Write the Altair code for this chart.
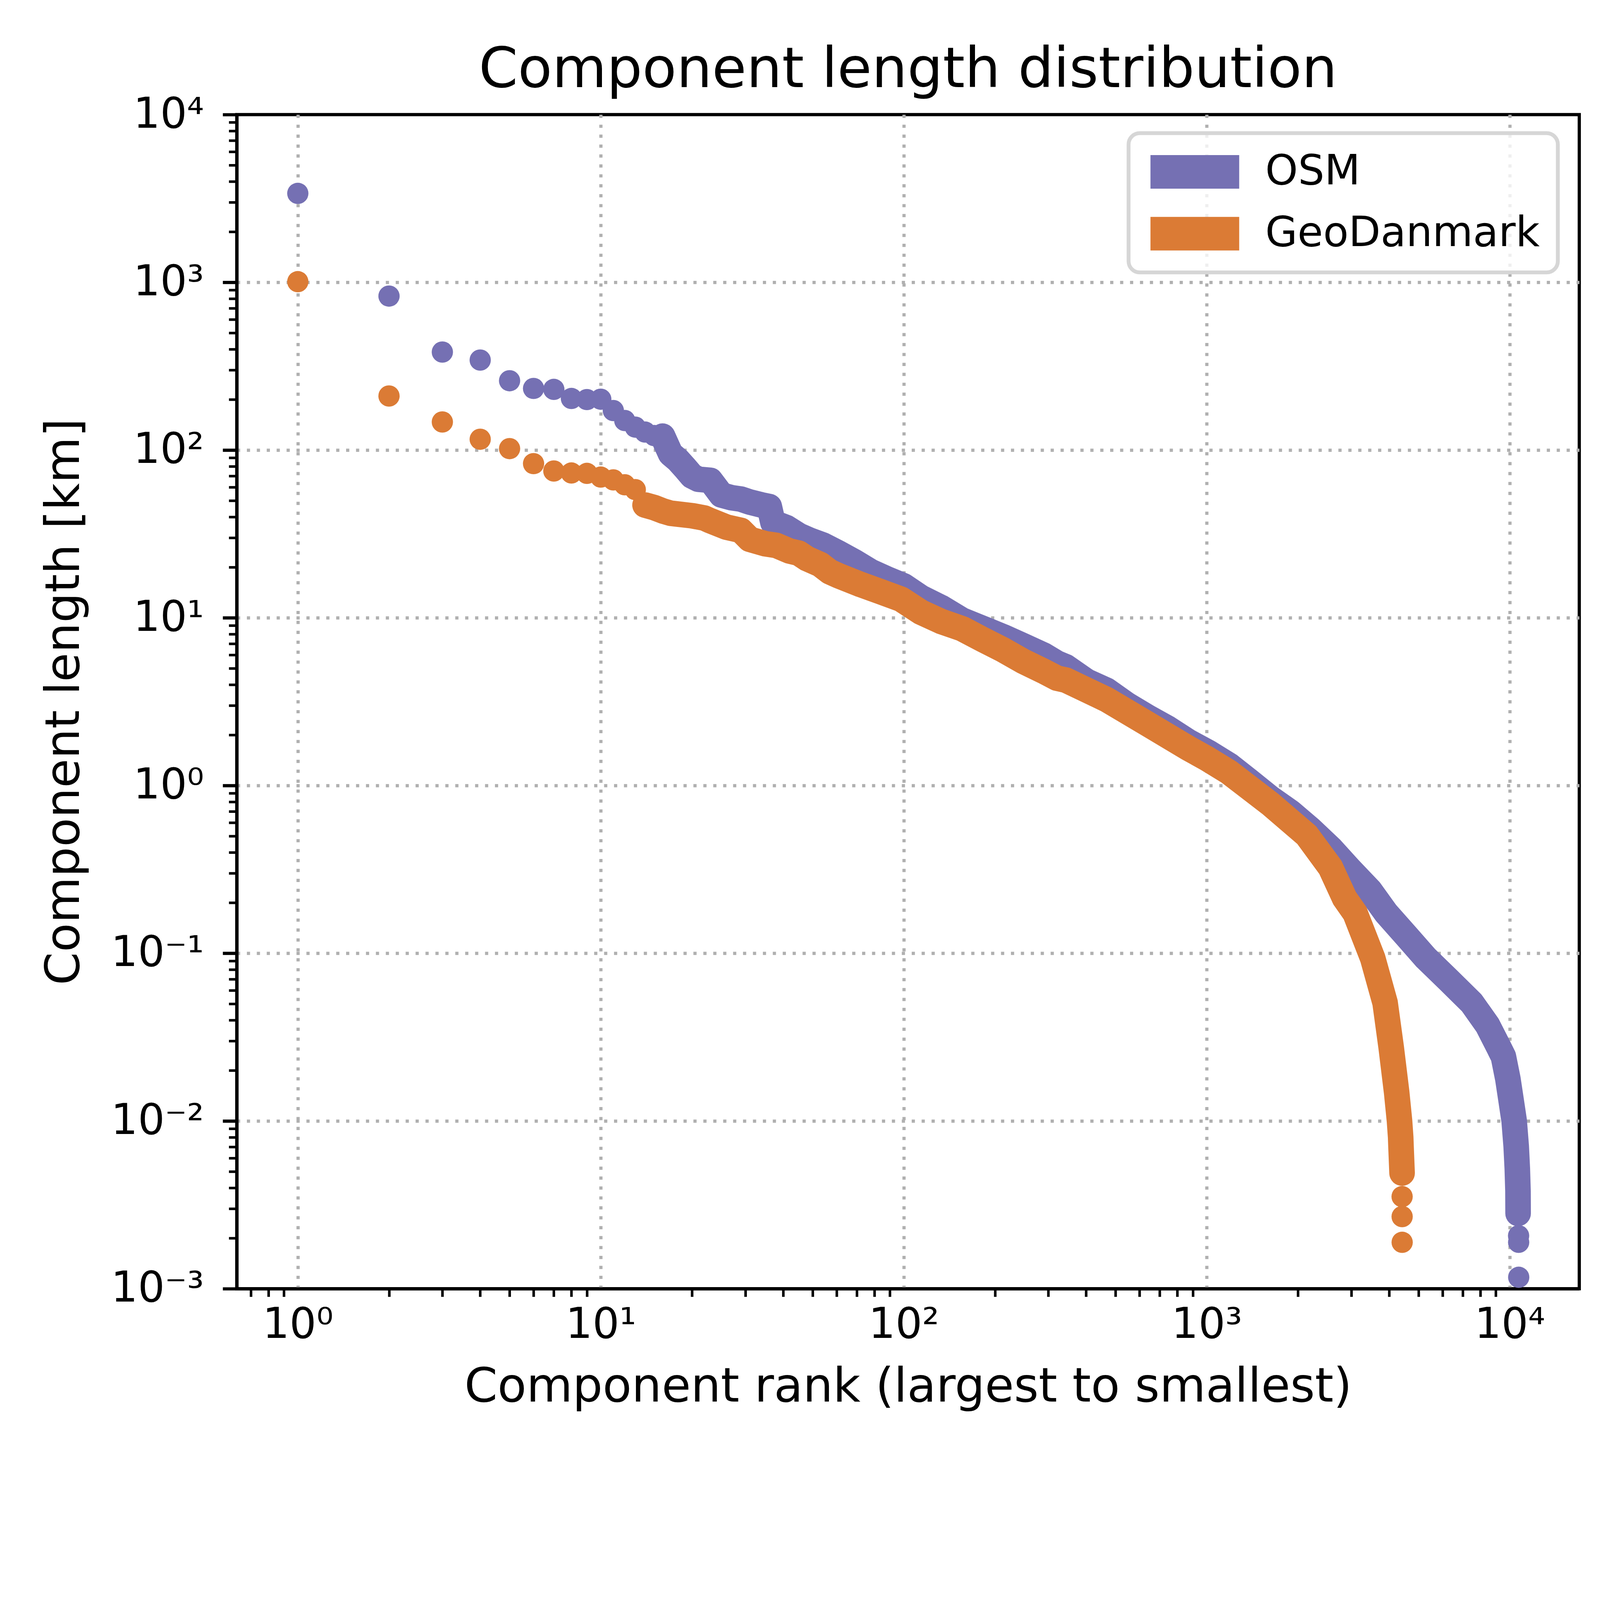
import altair as alt
import pandas as pd

# ---- data ----
osm_rank = [1, 2, 3, 4, 5, 6, 7, 8, 9, 10, 11, 12, 13, 14, 15, 16, 17, 18, 19, 20, 21,
            23, 25, 27, 29, 31, 34, 36, 37, 41, 45, 49, 54, 61, 69, 78, 89, 100,
            114, 133, 156, 182, 212, 248, 289, 321, 343, 401, 468, 546, 638, 745, 869,
            1016, 1186, 1384, 1617, 1888, 2204, 2574, 2953, 3460, 3917, 4560, 5292,
            6310, 7493, 8451, 9213, 9534, 9864, 10120, 10347, 10507, 10596, 10651,
            10660, 10700, 10705, 10710]
osm_length = [3390, 828, 384, 344, 259, 233, 230, 203, 200, 201, 172, 150, 137, 128, 122,
              121, 95, 87, 78, 70, 67, 66, 54, 52, 51, 49, 47, 46, 37, 34.5, 31, 29,
              27.2, 24.3, 21.5, 18.8, 16.9, 15.5,
              13.2, 11.5, 9.67, 8.65, 7.73, 6.81, 6.0, 5.36, 5.1, 4.19, 3.69, 3.03, 2.56,
              2.19, 1.83, 1.57, 1.32, 1.06, 0.845, 0.694, 0.547, 0.419, 0.319, 0.236,
              0.173, 0.127, 0.0935, 0.0687, 0.0506, 0.0372, 0.0274, 0.0242, 0.0178,
              0.0131, 0.01, 0.00707, 0.0052, 0.00383, 0.00281, 0.00207, 0.00189, 0.00117]

gd_rank = [1, 2, 3, 4, 5, 6, 7, 8, 9, 10, 11, 12, 13, 14, 15, 16, 17, 18, 20, 22, 23, 26,
           29, 31, 35, 38, 42, 45, 48, 53, 57, 61, 72, 84, 98, 114, 133, 156, 182, 212,
           248, 289, 321, 343, 468, 638, 869, 1000, 1186, 1617, 2138, 2560, 2851, 3090,
           3530, 3880, 4064, 4236, 4329, 4367, 4378, 4414, 4415, 4416, 4417]
gd_length = [1009, 210, 147, 116, 102, 83, 75, 73, 72.6, 69, 66.4, 62.1, 58.1, 47, 45.4,
             43.4, 42, 41.5, 40.6, 39.3, 37.9, 34.7, 33.2, 29.4, 27.6, 27, 25, 24.3, 22.5,
             20.8, 18.8, 17.8, 15.8, 14.3, 12.9, 10.8, 9.5, 8.6, 7.43, 6.46, 5.5, 4.81,
             4.36, 4.25, 3.25, 2.33, 1.67, 1.45, 1.20, 0.78, 0.506, 0.325, 0.213, 0.173,
             0.0935, 0.0506, 0.0274, 0.0148, 0.01, 0.008, 0.00707, 0.00489, 0.00354,
             0.00269, 0.00189]

series_names = ["OSM", "GeoDanmark"]
series_colors = ["#7570b3", "#db7b35"]

x_major_ticks = [1, 10, 100, 1000, 10000]
x_major_labels = ["10⁰", "10¹", "10²", "10³", "10⁴"]
x_minor_ticks = [0.7, 0.8, 0.9] + [m * 10 ** k for k in range(0, 4) for m in range(2, 10)]

y_major_ticks = [0.001, 0.01, 0.1, 1, 10, 100, 1000, 10000]
y_major_labels = ["10⁻³", "10⁻²", "10⁻¹", "10⁰", "10¹", "10²", "10³", "10⁴"]
y_minor_ticks = [round(m * 10.0 ** k, 6) for k in range(-3, 4) for m in range(2, 10)]

FONT = "DejaVu Sans"
MAJOR = "abs(log(datum.value) / LN10 - round(log(datum.value) / LN10)) < 0.000001"
INNER = "datum.value > 0.0011 && datum.value < 9000"

# which points merge into a continuous band (rank from, length above)
BAND = {"OSM": (16, 0.0027), "GeoDanmark": (14, 0.0045)}


def label_expr(vals, labs):
    return " : ".join(f"datum.value == {v} ? '{l}'" for v, l in zip(vals, labs)) + " : ''"


def band_test(name):
    r, l = BAND[name]
    return f"(datum.series == '{name}' && datum.rank >= {r} && datum.length > {l})"


df = pd.DataFrame({
    "rank": osm_rank + gd_rank,
    "length": osm_length + gd_length,
    "series": [series_names[0]] * len(osm_rank) + [series_names[1]] * len(gd_rank),
})

W, H = 4194, 3668

x_scale = alt.Scale(type="log", domain=[0.629, 16970], nice=False)
y_scale = alt.Scale(type="log", domain=[0.001, 10000], nice=False)
c_scale = alt.Scale(domain=series_names, range=series_colors)

x_axis = alt.Axis(
    values=sorted(x_major_ticks + x_minor_ticks),
    labelExpr=label_expr(x_major_ticks, x_major_labels),
    title="Component rank (largest to smallest)",
    grid=True, gridColor="#b0b0b0", gridWidth=10, gridDash=[10, 21],
    gridOpacity={"condition": {"test": MAJOR, "value": 1}, "value": 0},
    domain=True, domainColor="black", domainWidth=10,
    ticks=True, tickColor="black", tickSize=25, tickWidth=8,
    tickOpacity={"condition": {"test": MAJOR, "value": 0}, "value": 1},
    labelFont=FONT, labelFontSize=132, labelColor="black", labelPadding=24,
    labelFlush=False, labelOverlap=False, labelAlign="center", labelBaseline="top",
    labelLimit=1000,
    titleFont=FONT, titleFontSize=148, titleFontWeight="normal", titleColor="black",
    titleX=W / 2, titleY=352, titleBaseline="alphabetic", titleAlign="center",
)

y_axis = alt.Axis(
    values=sorted(y_major_ticks + y_minor_ticks),
    labelExpr=label_expr(y_major_ticks, y_major_labels),
    title="Component length [km]",
    grid=True, gridColor="#b0b0b0", gridWidth=10, gridDash=[10, 21],
    gridOpacity={"condition": {"test": f"{MAJOR} && {INNER}", "value": 1}, "value": 0},
    domain=True, domainColor="black", domainWidth=10,
    ticks=True, tickColor="black",
    tickSize={"condition": {"test": MAJOR, "value": 44}, "value": 25},
    tickWidth={"condition": {"test": MAJOR, "value": 10}, "value": 8},
    labelFont=FONT, labelFontSize=132, labelColor="black", labelPadding=59,
    labelFlush=False, labelOverlap=False, labelAlign="right", labelBaseline="middle",
    labelLimit=1000,
    titleFont=FONT, titleFontSize=148, titleFontWeight="normal", titleColor="black",
    titleX=-494, titleY=H / 2, titleAngle=270, titleBaseline="alphabetic",
    titleAlign="center",
)

legend = alt.Legend(
    title=None, orient="none", legendX=2786, legendY=58,
    symbolType="M-2.64,-1L2.64,-1L2.64,1L-2.64,1Z", symbolSize=11025,
    symbolOffset=86, symbolStrokeWidth=0, symbolOpacity=1,
    labelFont=FONT, labelFontSize=130, labelColor="black", labelOffset=155,
    labelLimit=2000, rowPadding=63, padding=56,
    strokeColor="#d6d6d6", fillColor="rgba(255,255,255,0.8)", cornerRadius=35,
)

X = alt.X("rank:Q", scale=x_scale, axis=x_axis)
Y = alt.Y("length:Q", scale=y_scale, axis=y_axis)


def band(name, color):
    return alt.Chart(df).transform_filter(band_test(name)).mark_line(
        strokeWidth=80, strokeCap="round", strokeJoin="round", color=color
    ).encode(x=X, y=Y)


points = alt.Chart(df).transform_filter(
    f"!{band_test('OSM')} && !{band_test('GeoDanmark')}"
).mark_circle(size=4418, opacity=1).encode(
    x=X, y=Y, color=alt.Color("series:N", scale=c_scale, legend=legend)
)

chart = alt.layer(
    band(series_names[0], series_colors[0]),
    band(series_names[1], series_colors[1]),
    points,
).properties(
    width=W, height=H,
    title=alt.TitleParams(
        text="Component length distribution", font=FONT, fontSize=175,
        fontWeight="normal", color="black", anchor="middle", frame="group",
        baseline="alphabetic", offset=20, dy=175,
    ),
    view=alt.ViewBackground(stroke="black", strokeWidth=10),
    background="white",
    autosize=alt.AutoSizeParams(type="none"),
    padding={"left": 730, "top": -94, "right": 55, "bottom": 440},
).configure_view(
    stroke="black", strokeWidth=10
).configure_legend(
    strokeWidth=12
)

chart.save("out.html", embed_options={"renderer": "svg", "actions": False})
